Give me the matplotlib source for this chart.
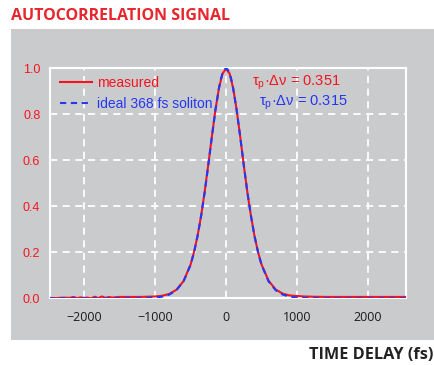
import matplotlib.pyplot as plt
from matplotlib.patches import Rectangle

# values
meas_delay = [-2500, -2400, -2300, -2200, -2150, -2100, -2050, -2000, -1950, -1900,
              -1850, -1800, -1750, -1700, -1650, -1600, -1550, -1500,
              -1400, -1300, -1200, -1100, -1000, -900, -800, -700, -600, -500,
              -450, -400, -350, -300, -250, -200, -150, -100, -50, 0,
              50, 100, 150, 200, 250, 300, 350, 400, 450, 500,
              600, 700, 800, 900, 1000, 1100, 1200,
              1400, 1600, 1800, 2000, 2200, 2400, 2550]
meas_signal = [0.002, 0.001, 0.003, 0.002, 0.006, 0.001, 0.004, 0.002, 0.003, 0.0,
               0.007, 0.001, 0.008, 0.002, 0.006, 0.003, 0.005, 0.006,
               0.006, 0.006, 0.006, 0.007, 0.008, 0.011, 0.019, 0.037, 0.074, 0.146,
               0.203, 0.274, 0.361, 0.466, 0.582, 0.703, 0.818, 0.914, 0.977, 0.998,
               0.977, 0.914, 0.818, 0.702, 0.578, 0.462, 0.360, 0.272, 0.202, 0.147,
               0.076, 0.038, 0.020, 0.012, 0.010, 0.008, 0.007,
               0.006, 0.006, 0.006, 0.006, 0.006, 0.006, 0.006]

ideal_delay = [-2500, -2000, -1500, -1200, -1000, -900, -800, -700, -600, -500,
               -450, -400, -350, -300, -250, -200, -150, -100, -75, -50, -25, 0,
               25, 50, 75, 100, 150, 200, 250, 300, 350, 400, 450, 500,
               600, 700, 800, 900, 1000, 1200, 1500, 2000, 2550]
ideal_signal = [0.0, 0.0, 0.0, 0.001, 0.003, 0.007, 0.016, 0.035, 0.073, 0.145,
                0.201, 0.272, 0.360, 0.463, 0.579, 0.701, 0.817, 0.913, 0.951, 0.977, 0.994, 1.0,
                0.994, 0.977, 0.951, 0.913, 0.817, 0.701, 0.579, 0.463, 0.360, 0.272, 0.201, 0.145,
                0.073, 0.035, 0.016, 0.007, 0.003, 0.001, 0.0, 0.0, 0.0]

x_ticks = [-2000, -1000, 0, 1000, 2000]
y_ticks = [0.0, 0.2, 0.4, 0.6, 0.8, 1.0]

RED = '#f5141e'
BLUE = '#2337f5'
GRAY = '#cacbcd'

plt.rcParams['font.family'] = ['Liberation Sans', 'DejaVu Sans']
plt.rcParams['mathtext.fontset'] = 'custom'
plt.rcParams['mathtext.rm'] = 'Liberation Sans'

fig = plt.figure(figsize=(4.34, 3.65), dpi=100)
fig.patches.append(Rectangle((11/434, 25/365), 1 - 11/434, 311/365,
                             transform=fig.transFigure, facecolor=GRAY,
                             edgecolor='none', zorder=-5))

ax = fig.add_axes([50/434, 66.7/365, 356/434, 230/365])
ax.set_facecolor(GRAY)

ax.plot(meas_delay, meas_signal, color=RED, lw=1.5, label='measured', zorder=3)
ax.plot(ideal_delay, ideal_signal, color=BLUE, lw=1.5, ls=(0, (3, 2.2)),
        label='ideal 368 fs soliton', zorder=4)

ax.set_xlim(-2480, 2535)
ax.set_ylim(0, 1)
ax.set_xticks(x_ticks)
ax.set_yticks(y_ticks)
ax.set_yticklabels(['%.1f' % v for v in y_ticks])
ax.tick_params(axis='both', length=0)
ax.tick_params(axis='x', pad=9, labelsize=9, labelcolor='#1a1a1a')
ax.tick_params(axis='y', pad=7, labelsize=9, labelcolor=RED)
for lab in ax.get_xticklabels():
    lab.set_fontfamily(['Open Sans', 'DejaVu Sans'])

ax.grid(True, color='white', lw=1.3, ls=(0, (4, 3)))
for s in ax.spines.values():
    s.set_color('white')
    s.set_linewidth(1.5)

leg = ax.legend(loc='upper left', frameon=False, fontsize=10,
                handlelength=2.3, handletextpad=0.4, labelspacing=0.55,
                borderaxespad=0.3, bbox_to_anchor=(0.0, 1.01))
for txt, c in zip(leg.get_texts(), [RED, BLUE]):
    txt.set_color(c)

ax.text(0.568, 0.938, 'τ$_\\mathregular{p}$·Δν = 0.351', color=RED,
        fontsize=10.5, transform=ax.transAxes, va='center')
ax.text(0.588, 0.85, 'τ$_\\mathregular{p}$·Δν = 0.315', color=BLUE,
        fontsize=10.5, transform=ax.transAxes, va='center')

fig.text(11/434, 1 - 16/365, 'AUTOCORRELATION SIGNAL', color='#e8262d',
         fontsize=11.5, fontweight='bold', family=['Open Sans', 'DejaVu Sans'],
         va='center', ha='left')
fig.text(433/434, 1 - 355/365, 'TIME DELAY (fs)', color='#222222',
         fontsize=11.7, fontweight='bold', family=['Open Sans', 'DejaVu Sans'],
         va='center', ha='right')

fig.savefig('out.png', dpi=100)
